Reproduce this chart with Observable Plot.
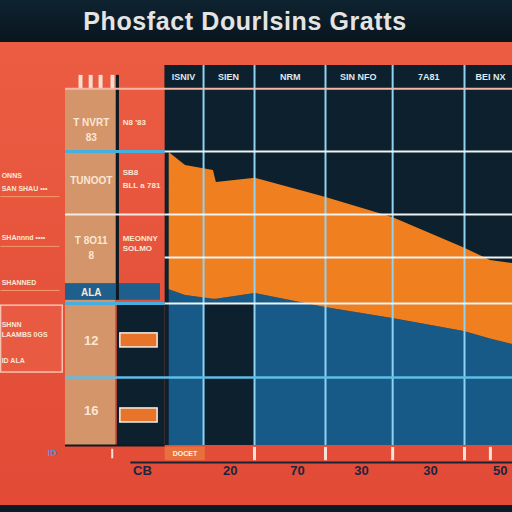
<!DOCTYPE html>
<html><head><meta charset="utf-8">
<script src="https://cdn.jsdelivr.net/npm/d3@7"></script>
<script src="https://cdn.jsdelivr.net/npm/@observablehq/plot@0.6"></script>
<style>
html,body{margin:0;padding:0;width:512px;height:512px;overflow:hidden;background:linear-gradient(#ec5e44,#e24a36);}
#title{height:42px;background:linear-gradient(#0e2330,#08151d);color:#e4e4e4;font:bold 25px "Liberation Sans",sans-serif;display:flex;align-items:center;justify-content:center;padding-right:22px;box-sizing:border-box;letter-spacing:0.6px}
#chart svg{display:block}
</style></head><body>
<div id="title">Phosfact Dourlsins Gratts</div>
<div id="chart"></div>
<script>
// series
const xs        = [1.0, 3.8, 8.6, 9.1, 15.8, 27.8, 39.4, 51.7, 56.2, 60];
const orangeTop = [77.1, 73.7, 72.4, 69.2, 70.3, 65.3, 60.0, 52.0, 48.7, 47.9];
const blueTop   = [41.0, 39.5, 38.5, 38.5, 40.0, 36.3, 33.4, 30.0, 28.0, 26.6];
// column headers
const columns  = ["ISNIV", "SIEN", "NRM", "SIN NFO", "7A81", "BEI NX"];
const columnX  = [3.45, 11.2, 21.8, 33.5, 45.6, 56.2];
// grid
const gridX = [6.9, 15.66, 27.86, 39.4, 51.75];
// x tick labels
const tickLabels = ["CB", "20", "70", "30", "30", "50"];
const tickX      = [-3.6, 11.5, 23.05, 34.05, 45.9, 57.9];
const tickMarks  = [15.66, 27.86, 39.4, 51.75, 56.2];
// left table
const cellLabels = ["T NVRT", "83", "TUNOOT", "T 8O11", "8", "ALA", "12", "16"];
const cellY      = [85, 81, 69.7, 53.9, 50, 40.3, 27.6, 9.2];
const sideLabels = ["N8 '83", "SB8", "BLL a 781", "MEONNY", "SOLMO"];
const sideY      = [85, 71.8, 68.4, 54.5, 51.8];
const leftLabels = ["ONNS", "SAN SHAU \u2022\u2022\u2022", "SHAnnnd \u2022\u2022\u2022\u2022", "SHANNED", "SHNN", "LAAMBS 0GS", "ID ALA"];
const leftY      = [70.9, 67.6, 54.7, 42.9, 31.8, 29.2, 22.4];
const boxY       = [27.65, 7.9];

const series = xs.map((x, i) => ({x, top: orangeTop[i], blue: blueTop[i]}));
const txt = (labels, ys) => labels.map((t, i) => ({t, y: ys[i]}));

const TAN0 = -16.83, TAN1 = -8.23;
const plot = Plot.plot({
  width: 512, height: 470,
  marginTop: 23, marginBottom: 67, marginLeft: 0, marginRight: 0,
  x: {domain: [-28, 60], axis: null},
  y: {domain: [0, 100], axis: null},
  style: {background: "transparent", fontFamily: "Liberation Sans"},
  marks: [
    // plot background
    Plot.rect([0], {x1: 0.3, x2: 60, y1: 0, y2: 100, fill: "#0c212d"}),
    // left tan column
    Plot.rect([0], {x1: TAN0, x2: TAN1, y1: 0, y2: 93.9, fill: "#d4956a"}),
    Plot.rect([0], {x1: TAN1 + 0.3, x2: 0.3, y1: 0, y2: 37.4, fill: "#0c212d"}),
    Plot.rect([0], {x1: TAN0, x2: -0.5, y1: 38.2, y2: 42.6, fill: "#1f5f8e"}),
    Plot.ruleX([-7.9], {y1: 38.2, y2: 97.4, stroke: "#0c1a22", strokeWidth: 3}),
    Plot.ruleX([-14.25, -12.5, -10.8, -8.75], {y1: 93.9, y2: 97.4, stroke: "#f8dccd", strokeWidth: 4}),
    // left box
    Plot.rect([0], {x1: -27.9, x2: -17.3, y1: 19.2, y2: 36.8, fill: "#e85a42", stroke: "#f6c3b0", strokeWidth: 1.5}),
    Plot.ruleY([65.5, 52.4, 40.8], {x1: -27.9, x2: -17.8, stroke: "#f39a6a", strokeWidth: 1}),
    // areas
    Plot.areaY(series, {x: "x", y1: 0, y2: "blue", fill: "#175a88"}),
    Plot.areaY(series, {x: "x", y1: "blue", y2: "top", fill: "#ef7f1f"}),
    Plot.rect([0], {x1: 6.9, x2: 15.66, y1: 0, y2: 37.4, fill: "#0c212d"}),
    // header row
    Plot.rect([0], {x1: 0.3, x2: 60, y1: 93.9, y2: 100, fill: "#0c212d"}),
    // grid
    Plot.ruleX(gridX, {y1: 0, y2: 100, stroke: "#8fd2f2", strokeWidth: 2}),
    Plot.ruleY([93.9], {x1: TAN0, x2: 60, stroke: "#f6b8a6", strokeWidth: 2}),
    Plot.ruleY([77.4, 37.4], {x1: TAN0, x2: 0.3, stroke: "#45b0e0", strokeWidth: 3}),
    Plot.ruleY([77.4, 60.8, 49.5, 37.4], {x1: 0.3, x2: 60, stroke: "#eef3f6", strokeWidth: 2}),
    Plot.ruleY([60.8], {x1: TAN0, x2: 0.3, stroke: "#f3ece6", strokeWidth: 2}),
    Plot.ruleY([17.9], {x1: TAN0, x2: 60, stroke: "#5fbde6", strokeWidth: 2.5}),
    Plot.ruleY([0], {x1: TAN0, x2: 0.3, stroke: "#0c1a22", strokeWidth: 2}),
    // header labels
    Plot.text(columns, {x: (d, i) => columnX[i], y: 97, text: d => d, fill: "#dfe9ee", fontSize: 9, fontWeight: "bold"}),
    // left table text
    Plot.text(txt(cellLabels, cellY), {x: -12.4, y: "y", text: "t", fill: "#fbe7d4", fontSize: d => d.t.length <= 2 && d.y < 30 ? 13 : 10, fontWeight: "bold"}),
    Plot.text(txt(sideLabels, sideY), {x: -7.0, y: "y", text: "t", textAnchor: "start", fill: "#fbe7d4", fontSize: 8, fontWeight: "bold"}),
    Plot.text(txt(leftLabels, leftY), {x: -27.8, y: "y", text: "t", textAnchor: "start", fill: "#fbe7d4", fontSize: 7, fontWeight: "bold"}),
    // small orange boxes
    Plot.rect(boxY, {x1: -7.4, x2: -1.0, y1: d => d - 1.85, y2: d => d + 1.85, fill: "#e8742a", stroke: "#f4efe8", strokeWidth: 1.5}),
    // bottom strip
    Plot.ruleX(tickMarks, {y1: -0.5, y2: -4, stroke: "#f8e2d8", strokeWidth: 3}),
    Plot.rect([0], {x1: 0.3, x2: 7.2, y1: -4, y2: -0.4, fill: "#e8703c"}),
    Plot.text(["DOCET"], {x: 3.7, y: -2.2, text: d => d, fill: "#fff3e6", fontSize: 7, fontWeight: "bold"}),
    Plot.text(["ID"], {x: -19.1, y: -2.1, text: d => d, fill: "#3a9bd5", fontSize: 9, fontWeight: "bold"}),
    Plot.ruleX([-8.8], {y1: -1, y2: -3.5, stroke: "#f8e2d8", strokeWidth: 2}),
    Plot.ruleY([-4.5], {x1: -5.6, x2: 60, stroke: "#1a2235", strokeWidth: 2}),
    Plot.text(tickLabels, {x: (d, i) => tickX[i], y: -6.7, text: d => d, fill: "#1b2440", fontSize: 13, fontWeight: "bold"}),
    // bottom band
    Plot.rect([0], {x1: -28, x2: 60, y1: -17.9, y2: -15.8, fill: "#0b1b25"})
  ]
});
document.getElementById("chart").appendChild(plot);
</script></body></html>
